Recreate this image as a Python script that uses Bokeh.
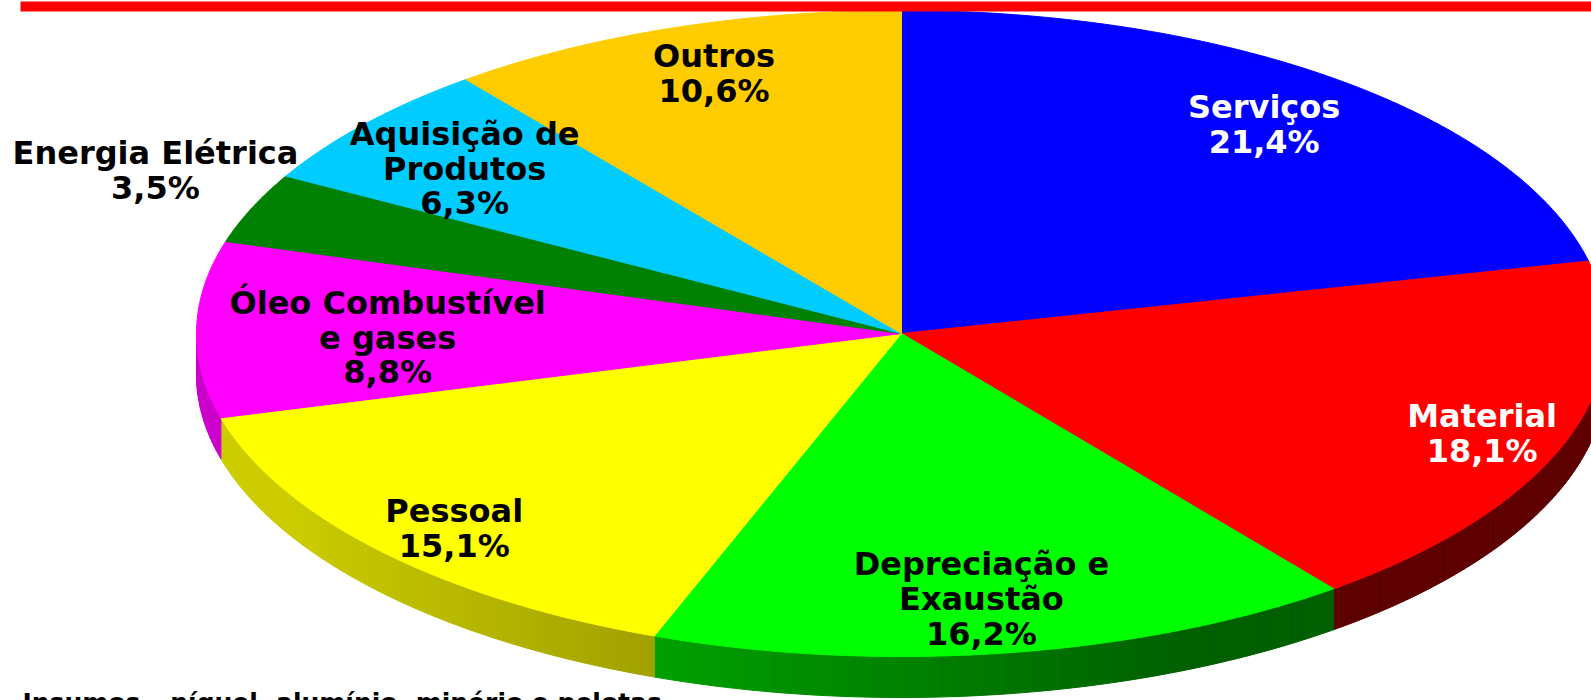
import numpy as np
from bokeh.plotting import figure
from bokeh.models import Range1d, ColumnDataSource
from bokeh.core.properties import value
from bokeh.embed import file_html
from bokeh.resources import INLINE

# ---------------- data ----------------
categories = ["Serviços", "Material", "Depreciação e Exaustão", "Pessoal",
              "Óleo Combustível e gases", "Energia Elétrica",
              "Aquisição de Produtos", "Outros"]
shares = [21.4, 18.1, 16.2, 15.1, 8.8, 3.5, 6.3, 10.6]
label_lines = [["Serviços"], ["Material"], ["Depreciação e", "Exaustão"], ["Pessoal"],
               ["Óleo Combustível", "e gases"], ["Energia Elétrica"],
               ["Aquisição de", "Produtos"], ["Outros"]]
footnote = "Insumos – níquel, alumínio, minério e pelotas"

# ---------------- style / layout ----------------
top_colors = ["#0000FF", "#FF0000", "#00FF00", "#FFFF00", "#FF00FF", "#008000", "#00CCFF", "#FFCC00"]
text_colors = ["white", "white", "black", "black", "black", "black", "black", "black"]
label_radius = [0.826, 0.880, 0.831, 0.876, 0.729, 1.172, 0.803, 0.848]
label_nudge_deg = [0.0, 1.0, 0.8, -1.3, -1.7, 2.6, -1.0, 0.8]

W, H = 1591, 700
CX, CY, A, B, DEPTH = 901.0, 333.0, 705.0, 323.0, 41.0

p = figure(width=W, height=H, output_backend="svg", toolbar_location=None,
           x_range=Range1d(0, W), y_range=Range1d(H, 0),
           x_axis_location=None, y_axis_location=None, min_border=0)
p.grid.visible = False
p.outline_line_color = None
p.background_fill_color = "white"
p.border_fill_color = "white"


def ex(t):
    return CX + A * np.sin(t)


def ey(t):
    return CY - B * np.cos(t)


def hex_to_rgb(h):
    h = h.lstrip("#")
    return [int(h[i:i + 2], 16) for i in (0, 2, 4)]


def shade(h, f):
    r, g, b = hex_to_rgb(h)
    return "#%02x%02x%02x" % (int(r * f), int(g * f), int(b * f))


fracs = np.array(shares) / sum(shares)
ends = np.cumsum(fracs) * 2 * np.pi
starts = ends - fracs * 2 * np.pi

# ---- side (front rim) ----
side_xs, side_ys, side_c = [], [], []
lo, hi = np.pi / 2, 3 * np.pi / 2
for s0, s1, col in zip(starts, ends, top_colors):
    a0, a1 = max(s0, lo), min(s1, hi)
    if a1 <= a0:
        continue
    n = max(2, int(np.degrees(a1 - a0) / 0.75) + 1)
    ts = np.linspace(a0, a1, n)
    for t0, t1 in zip(ts[:-1], ts[1:]):
        xs = [ex(t0), ex(t1), ex(t1), ex(t0)]
        ys = [ey(t0), ey(t1), ey(t1) + DEPTH, ey(t0) + DEPTH]
        sm = np.sin((t0 + t1) / 2)
        f = float(np.clip(0.513 - 0.333 * sm, 0.376, 0.80))
        side_xs.append(xs)
        side_ys.append(ys)
        side_c.append(shade(col, f))
p.patches(side_xs, side_ys, fill_color=side_c, line_color=side_c, line_width=1)

# ---- top faces ----
top_xs, top_ys = [], []
for s0, s1 in zip(starts, ends):
    n = max(3, int(np.degrees(s1 - s0) / 0.4) + 1)
    ts = np.linspace(s0, s1, n)
    top_xs.append([CX] + list(ex(ts)))
    top_ys.append([CY] + list(ey(ts)))
p.patches(top_xs, top_ys, fill_color=top_colors, line_color=top_colors, line_width=1)

# ---- red bar at top ----
p.quad(left=20, right=W, top=1, bottom=11, fill_color="#FF0000", line_color=None)

# ---- labels ----
lx, ly, lt = [], [], []
for s0, s1, r, nd, lines, v in zip(starts, ends, label_radius, label_nudge_deg, label_lines, shares):
    m = (s0 + s1) / 2 + np.radians(nd)
    lx.append(CX + r * A * np.sin(m))
    ly.append(CY - r * B * np.cos(m))
    pct = ("%.1f" % v).replace(".", ",") + "%"
    lt.append("\n".join(lines + [pct]))
src = ColumnDataSource(dict(x=lx, y=ly, text=lt, color=text_colors))
p.text(x="x", y="y", text="text", source=src, text_color="color",
       text_align="center", text_baseline="middle",
       text_font=value("DejaVu Sans"), text_font_style="bold",
       text_font_size="32px", text_line_height=0.92)

# ---- footnote (cut at bottom edge, as in the original) ----
p.text(x=[22], y=[702], text=[footnote], text_align="left", text_baseline="alphabetic",
       text_font=value("DejaVu Sans"), text_font_style="bold",
       text_font_size="25px", text_color="black")

open("out.html", "w").write(file_html(p, INLINE))
